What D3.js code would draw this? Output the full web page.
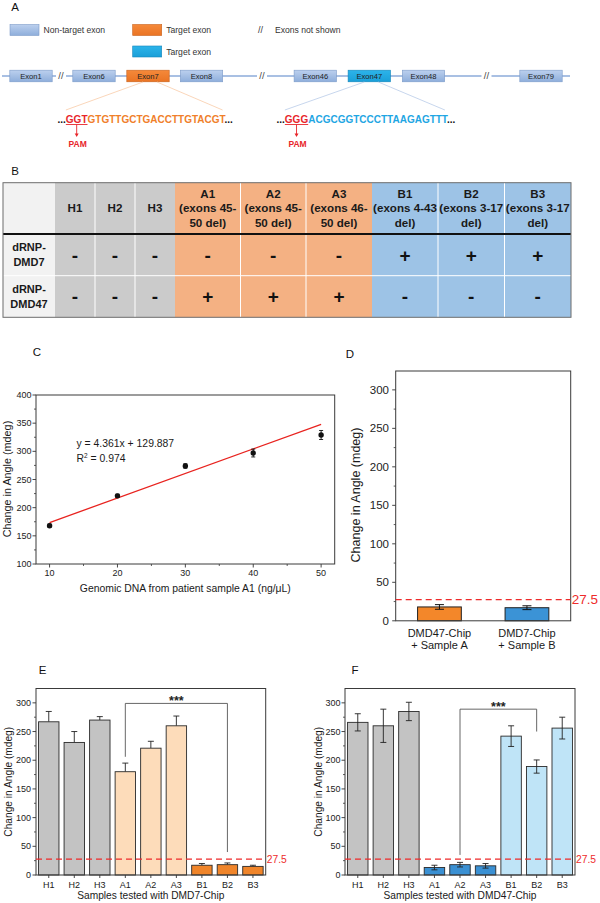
<!DOCTYPE html>
<html><head><meta charset="utf-8">
<script src="https://cdn.jsdelivr.net/npm/d3@7"></script>
<style>
body{margin:0;background:#fff}
svg{display:block}
text{font-family:"Liberation Sans",Arial,Helvetica,sans-serif}
</style>
</head><body>
<svg id="fig" width="600" height="903"></svg>
<script>
// ================= DATA =================
// Panel A
const legendLabels = ["Non-target exon", "Target exon", "Target exon"];
const legendKinds = ["non", "t7", "t47"];
const legendNote = "Exons not shown";
const exonNames = ["Exon1", "Exon6", "Exon7", "Exon8", "Exon46", "Exon47", "Exon48", "Exon79"];
const exonKinds = ["non", "non", "t7", "non", "non", "t47", "non", "non"];
const seqTarget7 = ["GGT", "GTGTTGCTGACCTTGTACGT"];
const seqTarget47 = ["GGG", "ACGCGGTCCCTTAAGAGTTT"];
// Panel B
const sampleIds = ["H1", "H2", "H3", "A1", "A2", "A3", "B1", "B2", "B3"];
const sampleNotes = ["", "", "", "(exons 45-|50 del)", "(exons 45-|50 del)", "(exons 46-|50 del)",
  "(exons 4-43|del)", "(exons 3-17|del)", "(exons 3-17|del)"];
const probeRows = ["dRNP-|DMD7", "dRNP-|DMD47"];
const dmd7Signs = ["-", "-", "-", "-", "-", "-", "+", "+", "+"];
const dmd47Signs = ["-", "-", "-", "+", "+", "+", "-", "-", "-"];
// Panel C
const concC = [10, 20, 30, 40, 50];
const angleC = [168, 221, 274, 297, 329];
const errC = [3, 3, 4, 7, 8];
const fitSlope = 4.361, fitIntercept = 129.887, fitR2 = "0.974";
// Panel D
const chipLabels = ["DMD47-Chip|+ Sample A", "DMD7-Chip|+ Sample B"];
const angleD = [18, 17];
const errD = [3, 2.5];
// Panel E (DMD7-Chip) and F (DMD47-Chip)
const angleE = [267, 231, 270, 180, 221, 260, 17, 18, 15];
const errE = [18, 19, 6, 15, 12, 17, 3, 3, 2];
const angleF = [266, 260, 285, 13, 18, 16, 242, 189, 256];
const errF = [15, 29, 16, 4, 4, 4, 18, 11.5, 19];
const threshold = 27.5;
const bracketE = ["A1", "B2", 206, 299, 40];   // from, to, fromVal, topVal, toVal
const bracketF = ["A2", "B2", 35, 289, 250];
const yTicksBar = [0, 50, 100, 150, 200, 250, 300];

// ================= DRAWING =================
const svg = d3.select("#fig");
const defs = svg.append("defs");
function grad(id, c1, c2) {
  const g = defs.append("linearGradient").attr("id", id).attr("x1", 0).attr("y1", 0).attr("x2", 0).attr("y2", 1);
  g.append("stop").attr("offset", "0%").attr("stop-color", c1);
  g.append("stop").attr("offset", "100%").attr("stop-color", c2);
}
grad("gNon", "#bcd0ee", "#8eaedb");
grad("gT7", "#f5893a", "#ea7424");
grad("gT47", "#2cb4ea", "#1a9fd8");
const exonFill = {non: "url(#gNon)", t7: "url(#gT7)", t47: "url(#gT47)"};
const exonStroke = {non: "#7d9cc9", t7: "#c8621c", t47: "#1585bb"};

function letter(t, x, y) {
  svg.append("text").attr("x", x).attr("y", y).attr("dy", "0.35em").attr("text-anchor", "middle")
    .attr("font-size", 11.5).attr("fill", "#111").text(t);
}

// ---------- Panel A ----------
letter("A", 15, 7);
const legY = [30, 30, 51.5];
const legX = [10, 132.7, 132.7];
legendLabels.forEach((lab, i) => {
  svg.append("rect").attr("x", legX[i]).attr("y", legY[i] - 5.5).attr("width", 29).attr("height", 11)
    .attr("fill", exonFill[legendKinds[i]]).attr("stroke", exonStroke[legendKinds[i]]).attr("stroke-width", 0.6);
  svg.append("text").attr("x", legX[i] + 33.5).attr("y", legY[i]).attr("dy", "0.35em")
    .attr("font-size", 8.6).attr("fill", "#333").text(lab);
});
svg.append("text").attr("x", 258).attr("y", 30).attr("dy", "0.35em").attr("font-size", 9).attr("fill", "#333").text("//");
svg.append("text").attr("x", 275).attr("y", 30).attr("dy", "0.35em").attr("font-size", 8.6).attr("fill", "#333").text(legendNote);

const geneY = 76;
const exonX = d3.scaleOrdinal().domain(exonNames).range([31, 94, 148, 201.5, 315.3, 369.3, 423.5, 541]);
svg.append("line").attr("x1", 2).attr("x2", 570).attr("y1", geneY).attr("y2", geneY)
  .attr("stroke", "#a9c0e3").attr("stroke-width", 2);
[61, 262, 486.5].forEach(bx => {
  svg.append("rect").attr("x", bx - 5).attr("y", geneY - 2).attr("width", 10).attr("height", 4).attr("fill", "#fff");
  svg.append("text").attr("x", bx).attr("y", geneY).attr("dy", "0.35em").attr("text-anchor", "middle")
    .attr("font-size", 9.5).attr("fill", "#444").text("//");
});
exonNames.forEach((n, i) => {
  const cx = exonX(n);
  svg.append("rect").attr("x", cx - 21.2).attr("y", geneY - 5.8).attr("width", 42.4).attr("height", 11.6)
    .attr("fill", exonFill[exonKinds[i]]).attr("stroke", exonStroke[exonKinds[i]]).attr("stroke-width", 0.6);
  svg.append("text").attr("x", cx).attr("y", geneY).attr("dy", "0.35em").attr("text-anchor", "middle")
    .attr("font-size", 7.6).attr("fill", "#222").text(n);
});

function sequence(parts, startX, exonName, tColor, lineColor) {
  const base = 122.5;
  const t = svg.append("text").attr("x", startX).attr("y", base).attr("font-size", 10).attr("font-weight", "bold");
  t.append("tspan").attr("fill", "#111").text("...");
  t.append("tspan").attr("fill", "#e8262b").text(parts[0]);
  t.append("tspan").attr("fill", tColor).text(parts[1]);
  t.append("tspan").attr("fill", "#111").text("...");
  const node = t.node();
  const pamStart = node.getStartPositionOfChar(3).x;
  const pamEnd = node.getEndPositionOfChar(5).x;
  const seqEnd = node.getEndPositionOfChar(5 + parts[1].length).x;
  const pc = (pamStart + pamEnd) / 2;
  svg.append("line").attr("x1", pamStart).attr("x2", pamEnd).attr("y1", base + 2).attr("y2", base + 2)
    .attr("stroke", "#e8262b").attr("stroke-width", 0.9);
  svg.append("line").attr("x1", pc).attr("x2", pc).attr("y1", base + 2).attr("y2", base + 12)
    .attr("stroke", "#e8262b").attr("stroke-width", 0.9);
  svg.append("path").attr("d", `M${pc - 2},${base + 11} L${pc + 2},${base + 11} L${pc},${base + 14.5} Z`).attr("fill", "#e8262b");
  svg.append("text").attr("x", pc + 1).attr("y", 144).attr("dy", "0.35em").attr("text-anchor", "middle")
    .attr("font-size", 8.5).attr("font-weight", "bold").attr("fill", "#e8262b").text("PAM");
  const cx = exonX(exonName);
  svg.append("line").attr("x1", cx - 5).attr("y1", geneY + 6).attr("x2", pamStart).attr("y2", 110)
    .attr("stroke", lineColor).attr("stroke-width", 0.8);
  svg.append("line").attr("x1", cx + 9).attr("y1", geneY + 6).attr("x2", seqEnd - 2).attr("y2", 110)
    .attr("stroke", lineColor).attr("stroke-width", 0.8);
}
sequence(seqTarget7, 57.5, "Exon7", "#f07f2b", "#f9cba8");
sequence(seqTarget47, 276.5, "Exon47", "#1fa6e3", "#b9cce9");

// ---------- Panel B ----------
letter("B", 15, 171);
const colEdges = [3, 55, 95, 135, 175, 240.5, 306, 372, 438, 504.5, 571];
const rowEdges = [182.7, 234, 275.7, 317.3];
const groupFill = g => g === "H" ? "#cbcbcb" : g === "A" ? "#f4b183" : "#9dc3e6";
const tb = svg.append("g");
// first column
tb.append("rect").attr("x", colEdges[0]).attr("y", rowEdges[0]).attr("width", colEdges[1] - colEdges[0])
  .attr("height", rowEdges[3] - rowEdges[0]).attr("fill", "#f2f2f2");
sampleIds.forEach((s, i) => {
  tb.append("rect").attr("x", colEdges[i + 1]).attr("y", rowEdges[0]).attr("width", colEdges[i + 2] - colEdges[i + 1])
    .attr("height", rowEdges[3] - rowEdges[0]).attr("fill", groupFill(s[0]));
});
// white separators
sampleIds.forEach((s, i) => {
  if (i > 0 && sampleIds[i - 1][0] === s[0]) {
    tb.append("line").attr("x1", colEdges[i + 1]).attr("x2", colEdges[i + 1]).attr("y1", rowEdges[0]).attr("y2", rowEdges[3])
      .attr("stroke", "#fff").attr("stroke-width", 1);
  }
});
tb.append("line").attr("x1", colEdges[0]).attr("x2", colEdges[10]).attr("y1", rowEdges[2]).attr("y2", rowEdges[2])
  .attr("stroke", "#fff").attr("stroke-width", 1);
tb.append("line").attr("x1", colEdges[0]).attr("x2", colEdges[10]).attr("y1", rowEdges[1]).attr("y2", rowEdges[1])
  .attr("stroke", "#111").attr("stroke-width", 2);
tb.append("rect").attr("x", colEdges[0]).attr("y", rowEdges[0]).attr("width", colEdges[10] - colEdges[0])
  .attr("height", rowEdges[3] - rowEdges[0]).attr("fill", "none").attr("stroke", "#6d6d6d").attr("stroke-width", 1);
// header text
sampleIds.forEach((s, i) => {
  const cx = (colEdges[i + 1] + colEdges[i + 2]) / 2;
  const lines = sampleNotes[i] ? [s].concat(sampleNotes[i].split("|")) : [s];
  const cy = (rowEdges[0] + rowEdges[1]) / 2;
  lines.forEach((ln, k) => {
    tb.append("text").attr("x", cx).attr("y", cy + (k - (lines.length - 1) / 2) * 14.2).attr("dy", "0.35em")
      .attr("text-anchor", "middle").attr("font-size", 11.6).attr("font-weight", "bold").attr("fill", "#1a1a1a").text(ln);
  });
});
// row labels and signs
[dmd7Signs, dmd47Signs].forEach((signs, r) => {
  const cy = (rowEdges[r + 1] + rowEdges[r + 2]) / 2;
  probeRows[r].split("|").forEach((ln, k) => {
    tb.append("text").attr("x", (colEdges[0] + colEdges[1]) / 2).attr("y", cy + (k - 0.5) * 14.5).attr("dy", "0.35em")
      .attr("text-anchor", "middle").attr("font-size", 11).attr("font-weight", "bold").attr("fill", "#1a1a1a").text(ln);
  });
  signs.forEach((sg, i) => {
    tb.append("text").attr("x", (colEdges[i + 1] + colEdges[i + 2]) / 2).attr("y", cy).attr("dy", "0.35em")
      .attr("text-anchor", "middle").attr("font-size", 19).attr("font-weight", "bold").attr("fill", "#111").text(sg);
  });
});

// ---------- helpers for plots ----------
function leftTicks(g, y, x0, major, minor, fs, labelX) {
  major.forEach(v => {
    g.append("line").attr("x1", x0 - 3.5).attr("x2", x0).attr("y1", y(v)).attr("y2", y(v)).attr("stroke", "#333").attr("stroke-width", 0.9);
    g.append("text").attr("x", labelX).attr("y", y(v)).attr("dy", "0.35em").attr("text-anchor", "end")
      .attr("font-size", fs).attr("fill", "#222").text(v);
  });
  minor.forEach(v => {
    g.append("line").attr("x1", x0 - 2).attr("x2", x0).attr("y1", y(v)).attr("y2", y(v)).attr("stroke", "#333").attr("stroke-width", 0.8);
  });
}
function box(g, p) {
  g.append("rect").attr("x", p.x0).attr("y", p.y0).attr("width", p.x1 - p.x0).attr("height", p.y1 - p.y0)
    .attr("fill", "none").attr("stroke", "#3a3a3a").attr("stroke-width", 1);
}
function ylab(g, t, x, y, fs) {
  g.append("text").attr("transform", `translate(${x},${y}) rotate(-90)`).attr("dy", "0.35em")
    .attr("text-anchor", "middle").attr("font-size", fs).attr("fill", "#1a1a1a").text(t);
}
function errBar(g, cx, yTop, yBot, cap) {
  g.append("line").attr("x1", cx).attr("x2", cx).attr("y1", yTop).attr("y2", yBot).attr("stroke", "#222").attr("stroke-width", 0.9);
  g.append("line").attr("x1", cx - cap / 2).attr("x2", cx + cap / 2).attr("y1", yTop).attr("y2", yTop).attr("stroke", "#222").attr("stroke-width", 0.9);
}
function threshLine(g, p, y, fs) {
  g.append("line").attr("x1", p.x0).attr("x2", p.x1).attr("y1", y(threshold)).attr("y2", y(threshold))
    .attr("stroke", "#ee2b2b").attr("stroke-width", 1.3).attr("stroke-dasharray", "6,4");
  g.append("text").attr("x", p.x1 + 1).attr("y", y(threshold)).attr("dy", "0.35em")
    .attr("font-size", fs).attr("fill", "#ee2b2b").text(threshold);
}

// ---------- Panel C ----------
letter("C", 37, 352);
const pC = {x0: 36, x1: 334.7, y0: 395, y1: 564};
const gC = svg.append("g");
const xC = d3.scaleLinear().domain([8, 52]).range([pC.x0, pC.x1]);
const yC = d3.scaleLinear().domain([100, 400]).range([pC.y1, pC.y0]);
leftTicks(gC, yC, pC.x0, d3.range(100, 401, 50), d3.range(125, 400, 50), 9, 31.5);
d3.range(10, 51, 10).forEach(v => {
  gC.append("line").attr("x1", xC(v)).attr("x2", xC(v)).attr("y1", pC.y1).attr("y2", pC.y1 + 3.5).attr("stroke", "#333").attr("stroke-width", 0.9);
  gC.append("text").attr("x", xC(v)).attr("y", pC.y1 + 11.5).attr("text-anchor", "middle").attr("font-size", 9).attr("fill", "#222").text(v);
});
d3.range(15, 50, 10).forEach(v => {
  gC.append("line").attr("x1", xC(v)).attr("x2", xC(v)).attr("y1", pC.y1).attr("y2", pC.y1 + 2).attr("stroke", "#333").attr("stroke-width", 0.8);
});
box(gC, pC);
gC.append("line").attr("x1", xC(10)).attr("x2", xC(50))
  .attr("y1", yC(fitSlope * 10 + fitIntercept)).attr("y2", yC(fitSlope * 50 + fitIntercept))
  .attr("stroke", "#e8231f").attr("stroke-width", 1.3);
concC.forEach((c, i) => {
  const cx = xC(c);
  gC.append("line").attr("x1", cx).attr("x2", cx).attr("y1", yC(angleC[i] + errC[i])).attr("y2", yC(angleC[i] - errC[i])).attr("stroke", "#111").attr("stroke-width", 0.9);
  [1, -1].forEach(s => gC.append("line").attr("x1", cx - 2).attr("x2", cx + 2).attr("y1", yC(angleC[i] + s * errC[i])).attr("y2", yC(angleC[i] + s * errC[i])).attr("stroke", "#111").attr("stroke-width", 0.9));
  gC.append("circle").attr("cx", cx).attr("cy", yC(angleC[i])).attr("r", 2.7).attr("fill", "#111");
});
gC.append("text").attr("x", 76.5).attr("y", 443.5).attr("dy", "0.35em").attr("font-size", 10.4).attr("fill", "#1a1a1a")
  .text(`y = ${fitSlope}x + ${fitIntercept}`);
const r2 = gC.append("text").attr("x", 76.5).attr("y", 458.5).attr("dy", "0.35em").attr("font-size", 10.4).attr("fill", "#1a1a1a");
r2.append("tspan").text("R");
r2.append("tspan").attr("font-size", 6.5).attr("dy", "-4").text("2");
r2.append("tspan").attr("dy", "4").text(" = " + fitR2);
ylab(gC, "Change in Angle (mdeg)", 7.5, 479, 10.8);
gC.append("text").attr("x", (pC.x0 + pC.x1) / 2).attr("y", 588).attr("dy", "0.35em").attr("text-anchor", "middle")
  .attr("font-size", 10.4).attr("fill", "#1a1a1a").text("Genomic DNA from patient sample A1 (ng/μL)");

// ---------- Panel D ----------
letter("D", 350, 354);
const pD = {x0: 395.7, x1: 570.7, y0: 371, y1: 620.8};
const gD = svg.append("g");
const xD = d3.scalePoint().domain(chipLabels).range([pD.x0, pD.x1]).padding(0.5);
const yD = d3.scaleLinear().domain([0, 324.5]).range([pD.y1, pD.y0]);
leftTicks(gD, yD, pD.x0, yTicksBar, d3.range(25, 325, 50), 11.5, 389);
const dColors = ["#f3872a", "#3b93d6"];
chipLabels.forEach((c, i) => {
  const cx = xD(c), w = xD.step() * 0.5;
  gD.append("rect").attr("x", cx - w / 2).attr("y", yD(angleD[i])).attr("width", w).attr("height", yD(0) - yD(angleD[i]))
    .attr("fill", dColors[i]).attr("stroke", "#222").attr("stroke-width", 1);
  gD.append("line").attr("x1", cx).attr("x2", cx).attr("y1", yD(angleD[i] + errD[i])).attr("y2", yD(angleD[i] - errD[i])).attr("stroke", "#111").attr("stroke-width", 1);
  [1, -1].forEach(s => gD.append("line").attr("x1", cx - 4.5).attr("x2", cx + 4.5).attr("y1", yD(angleD[i] + s * errD[i])).attr("y2", yD(angleD[i] + s * errD[i])).attr("stroke", "#111").attr("stroke-width", 1));
  c.split("|").forEach((ln, k) => {
    gD.append("text").attr("x", cx).attr("y", 633.5 + k * 12).attr("dy", "0.35em").attr("text-anchor", "middle")
      .attr("font-size", 11).attr("fill", "#1a1a1a").text(ln);
  });
});
box(gD, pD);
threshLine(gD, pD, yD, 13.5);
ylab(gD, "Change in Angle (mdeg)", 356, 495, 12.5);

// ---------- Panels E & F ----------
function barPanel(p, vals, errs, colors, full, xTitle, br, tickLabX, ylabX) {
  const g = svg.append("g");
  const x = d3.scaleBand().domain(sampleIds).range([p.x0, p.x1]).paddingInner(0.2).paddingOuter(0.1);
  const y = d3.scaleLinear().domain([0, 325]).range([p.y1, p.y0]);
  leftTicks(g, y, p.x0, yTicksBar, d3.range(25, 325, 50), 9, tickLabX);
  sampleIds.forEach((s, i) => {
    const bx = x(s), bw = x.bandwidth(), cx = bx + bw / 2;
    g.append("line").attr("x1", cx).attr("x2", cx).attr("y1", p.y1).attr("y2", p.y1 + 3).attr("stroke", "#333").attr("stroke-width", 0.9);
    g.append("text").attr("x", cx).attr("y", 885).attr("dy", "0.35em").attr("text-anchor", "middle")
      .attr("font-size", 9).attr("fill", "#1a1a1a").text(s);
    if (!full) errBar(g, cx, y(vals[i] + errs[i]), y(vals[i]), 6);
    g.append("rect").attr("x", bx).attr("y", y(vals[i])).attr("width", bw).attr("height", y(0) - y(vals[i]))
      .attr("fill", colors[s[0]]).attr("stroke", "#2a2a2a").attr("stroke-width", 0.9);
    if (full) {
      errBar(g, cx, y(vals[i] + errs[i]), y(vals[i] - errs[i]), 6);
      g.append("line").attr("x1", cx - 3).attr("x2", cx + 3).attr("y1", y(vals[i] - errs[i])).attr("y2", y(vals[i] - errs[i])).attr("stroke", "#222").attr("stroke-width", 0.9);
    }
  });
  box(g, p);
  threshLine(g, p, y, 10.3);
  // significance bracket
  const xa = x(br[0]) + x.bandwidth() / 2, xb = x(br[1]) + x.bandwidth() / 2;
  g.append("path").attr("d", `M${xa},${y(br[2])} V${y(br[3])} H${xb} V${y(br[4])}`)
    .attr("fill", "none").attr("stroke", "#555").attr("stroke-width", 0.9);
  g.append("text").attr("x", (xa + xb) / 2).attr("y", y(br[3]) + 1.5).attr("text-anchor", "middle")
    .attr("font-size", 12.5).attr("font-weight", "bold").attr("fill", "#222").text("***");
  ylab(g, "Change in Angle (mdeg)", ylabX, (p.y0 + p.y1) / 2, 10.2);
  g.append("text").attr("x", (p.x0 + p.x1) / 2).attr("y", 895.5).attr("dy", "0.35em").attr("text-anchor", "middle")
    .attr("font-size", 10.2).attr("fill", "#1a1a1a").text(xTitle);
}
letter("E", 42.7, 669.5);
barPanel({x0: 36, x1: 265.7, y0: 688.5, y1: 875}, angleE, errE,
  {H: "#c3c3c3", A: "#fddcba", B: "#f0852a"}, false, "Samples tested with DMD7-Chip", bracketE, 31, 8.3);
letter("F", 355, 669.5);
barPanel({x0: 345, x1: 575, y0: 688.5, y1: 875}, angleF, errF,
  {H: "#c3c3c3", A: "#3a90d3", B: "#bfe4f7"}, true, "Samples tested with DMD47-Chip", bracketF, 340.5, 318.3);
</script>
</body></html>
